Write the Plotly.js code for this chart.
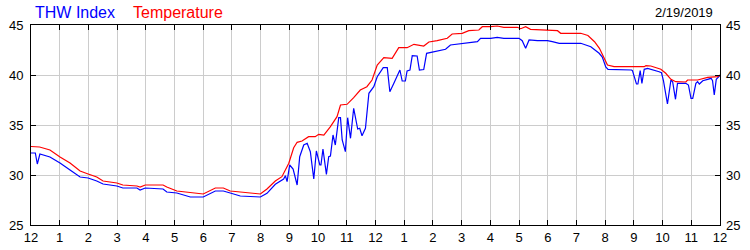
<!DOCTYPE html>
<html>
<head>
<meta charset="utf-8">
<script src="https://cdn.plot.ly/plotly-3.0.1.min.js"></script>
<style>html,body{margin:0;padding:0;background:#fff;}#chart{width:750px;height:250px;}</style>
</head>
<body>
<div id="chart"></div>
<script>
// Hours since midnight (0..24) and readings (°F)
var tempHours = [0,0.3,0.66,1.01,1.36,1.71,1.99,2.29,2.51,2.99,3.2,3.69,3.8,3.98,4.6,4.73,5.08,5.43,5.55,5.9,6.0,6.42,6.7,6.94,7.29,7.4,7.99,8.22,8.51,8.74,8.98,9.15,9.27,9.44,9.67,9.9,10.02,10.2,10.43,10.66,10.78,11.01,11.24,11.47,11.7,11.88,12.06,12.29,12.58,12.81,13.1,13.34,13.57,13.68,13.86,14.15,14.5,14.67,15.02,15.25,15.6,15.72,16.01,16.24,16.47,16.94,17.06,17.23,17.4,17.99,18.34,18.45,19.15,19.4,19.63,19.8,19.97,20.08,20.31,21.36,21.42,21.59,21.94,22.11,22.29,22.46,22.81,22.87,23.22,23.57,23.92,24];
var temperature = [32.85,32.8,32.5,31.8,31.2,30.4,30.1,29.8,29.4,29.2,29.0,28.9,28.8,29.0,29.0,28.8,28.4,28.3,28.2,28.1,28.1,28.7,28.7,28.4,28.3,28.2,28.1,28.6,29.4,29.83,31.17,32.73,33.27,33.4,33.83,33.83,34.07,34.0,34.83,35.83,37.0,37.07,37.73,38.5,38.83,39.5,41.0,41.73,41.67,42.73,42.73,43.07,42.93,42.9,43.3,43.43,43.67,44.1,44.17,44.43,44.5,44.83,44.83,44.9,44.77,44.77,44.63,44.83,44.57,44.5,44.43,44.17,44.17,43.95,43.33,42.67,41.57,41.0,40.83,40.83,40.93,40.9,40.57,40.17,39.57,39.33,39.3,39.5,39.5,39.77,39.83,40.0];

var thwHours = [0,0.15,0.22,0.31,0.66,1.01,1.36,1.71,1.99,2.29,2.51,2.99,3.2,3.69,3.8,3.98,4.6,4.73,5.08,5.43,5.55,5.9,6.0,6.42,6.7,6.94,7.29,7.99,8.22,8.51,8.8,8.86,8.92,9.01,9.13,9.27,9.36,9.5,9.62,9.73,9.85,9.94,10.06,10.1,10.17,10.29,10.37,10.43,10.52,10.6,10.72,10.78,10.84,10.95,11.03,11.13,11.24,11.38,11.45,11.53,11.65,11.77,11.94,12.06,12.27,12.41,12.5,12.64,12.85,12.93,13.04,13.1,13.2,13.28,13.39,13.45,13.53,13.68,13.78,14.03,14.44,14.61,15.08,15.55,15.66,16.01,16.24,16.47,17.0,17.11,17.23,17.35,17.64,17.99,18.16,18.4,19.15,19.5,19.79,19.9,20.02,20.1,20.92,20.95,21.09,21.14,21.22,21.28,21.36,21.48,21.88,21.96,22.03,22.17,22.29,22.35,22.45,22.52,22.81,22.9,22.99,23.05,23.16,23.22,23.28,23.4,23.57,23.69,23.74,23.8,23.87,23.97,24];
var thwIndex = [32.2,32.2,31.1,32.1,31.8,31.2,30.5,29.8,29.7,29.4,29.1,28.9,28.7,28.7,28.5,28.7,28.6,28.3,28.2,27.9,27.8,27.8,27.8,28.4,28.4,28.2,27.9,27.8,28.17,29.07,29.6,29.93,29.33,31.0,30.6,29.0,31.83,33.0,33.17,32.33,29.6,32.4,31.0,31.0,32.6,30.07,31.83,31.9,34.0,33.0,35.73,35.73,33.5,32.33,35.73,33.67,36.67,34.6,34.67,33.93,34.67,38.17,38.83,39.83,40.73,40.73,38.33,39.17,40.5,39.4,39.4,40.4,40.5,41.93,41.93,41.9,40.5,40.55,42.17,42.33,42.57,43.0,43.17,43.33,43.67,43.67,43.77,43.67,43.67,43.43,42.67,43.5,43.43,43.43,43.33,43.17,43.17,42.83,42.17,41.8,40.8,40.57,40.5,40.43,39.1,39.1,40.43,39.17,40.57,40.67,40.33,40.23,39.43,37.1,39.5,39.33,37.57,39.17,39.17,39.0,37.67,37.67,39.17,39.33,39.1,39.43,39.57,39.67,39.43,38.0,39.57,39.83,39.97];

var hourTicks = [0,1,2,3,4,5,6,7,8,9,10,11,12,13,14,15,16,17,18,19,20,21,22,23,24];
var hourLabels = ["12","1","2","3","4","5","6","7","8","9","10","11","12","1","2","3","4","5","6","7","8","9","10","11","12"];
var yTicks = [25,30,35,40,45];
var dateLabel = "2/19/2019";

var font = {family: "Liberation Sans, Arial, sans-serif", size: 13, color: "#000"};

var traces = [
  {x: thwHours, y: thwIndex, type: "scatter", mode: "lines", name: "THW Index",
   line: {color: "#0000ff", width: 1.2}, hoverinfo: "skip"},
  {x: tempHours, y: temperature, type: "scatter", mode: "lines", name: "Temperature",
   line: {color: "#ff0000", width: 1.2}, hoverinfo: "skip"},
  {x: [0], y: [25], yaxis: "y2", type: "scatter", mode: "markers",
   marker: {opacity: 0}, showlegend: false, hoverinfo: "skip"}
];

var layout = {
  width: 750, height: 250,
  margin: {l: 31, r: 30, t: 25, b: 25, pad: 0},
  paper_bgcolor: "#fff", plot_bgcolor: "#fff",
  showlegend: false,
  font: font,
  xaxis: {
    range: [0, 24], tickmode: "array", tickvals: hourTicks, ticktext: hourLabels,
    showgrid: true, gridcolor: "#cccccc", gridwidth: 1,
    showline: true, linecolor: "#000", linewidth: 1, mirror: "ticks",
    ticks: "inside", ticklen: 5, tickcolor: "#000", tickwidth: 1,
    zeroline: false, tickfont: font, fixedrange: true
  },
  yaxis: {
    range: [25, 45], tickmode: "array", tickvals: yTicks,
    showgrid: true, gridcolor: "#cccccc", gridwidth: 1,
    showline: true, linecolor: "#000", linewidth: 1, mirror: "ticks",
    ticks: "inside", ticklen: 5, tickcolor: "#000", tickwidth: 1,
    ticklabelstandoff: 4,
    zeroline: false, tickfont: font, fixedrange: true
  },
  yaxis2: {
    range: [25, 45], tickmode: "array", tickvals: yTicks,
    overlaying: "y", side: "right", showgrid: false, showline: false,
    ticks: "", ticklabelstandoff: 5, zeroline: false, tickfont: font, fixedrange: true
  },
  annotations: [
    {xref: "paper", yref: "paper", x: 0.003, y: 1, yshift: 13, xanchor: "left", yanchor: "middle",
     text: "THW Index", showarrow: false, font: {family: font.family, size: 16, color: "#0000ff"}},
    {xref: "paper", yref: "paper", x: 0.145, y: 1, yshift: 13, xanchor: "left", yanchor: "middle",
     text: "Temperature", showarrow: false, font: {family: font.family, size: 16, color: "#ff0000"}},
    {xref: "paper", yref: "paper", x: 0.993, y: 1, yshift: 13, xanchor: "right", yanchor: "middle",
     text: dateLabel, showarrow: false, font: font}
  ]
};

Plotly.newPlot("chart", traces, layout, {displayModeBar: false, staticPlot: true});
</script>
</body>
</html>
